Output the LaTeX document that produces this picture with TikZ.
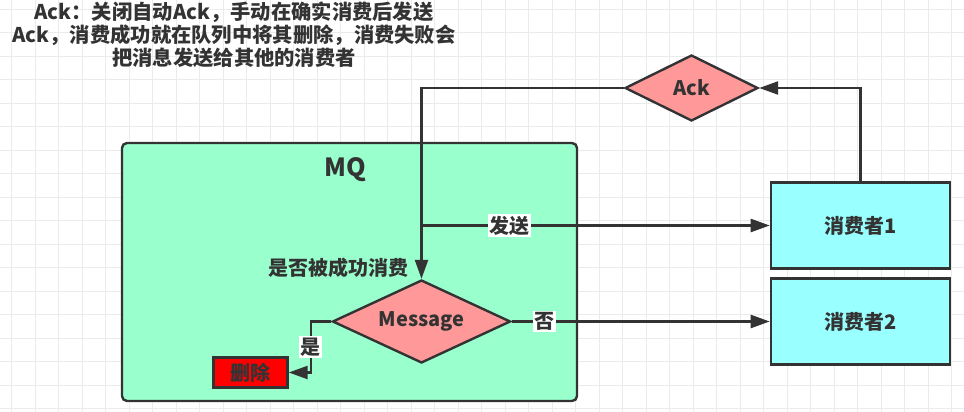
\documentclass[tikz,border=0pt]{standalone}
\usepackage{fontspec}
\setmainfont{Noto Sans CJK SC}
\usetikzlibrary{shapes.geometric,arrows.meta}
\definecolor{ln}{HTML}{333333}
\definecolor{gridc}{HTML}{EBEBEB}
\definecolor{mqfill}{HTML}{99FFCC}
\definecolor{cfill}{HTML}{99FFFF}
\definecolor{dfill}{HTML}{FF9999}
\definecolor{rfill}{HTML}{FF0000}
\tikzset{
  txt/.style={text=ln,font=\bfseries\fontsize{20}{24}\selectfont},
  mqbox/.style={draw=ln,line width=2.4pt,fill=mqfill,rounded corners=5pt,inner sep=0pt},
  cbox/.style={draw=ln,line width=2.6pt,fill=cfill,inner sep=0pt,minimum width=179pt,minimum height=86pt,txt},
  dia/.style={diamond,draw=ln,line width=2.4pt,fill=dfill,inner sep=0pt,txt},
  delbox/.style={draw=ln,line width=2.4pt,fill=rfill,inner sep=0pt,minimum width=74pt,minimum height=30pt,txt},
  arr/.style={draw=ln,line width=2.4pt,-{Triangle[length=19pt,width=13pt]}},
  lbl/.style={fill=white,inner sep=1.5pt,txt},
}
\begin{document}
\begin{tikzpicture}[x=1pt,y=-1pt]
\useasboundingbox (0,0) rectangle (964,412);
\fill[white] (0,0) rectangle (964,412);
\foreach \i in {0,...,40} \draw[gridc,line width=1pt] ({11.7+23.5*\i},0) -- ++(0,412);
\foreach \j in {0,...,17} \draw[gridc,line width=1pt] (0,{9.3+23.5*\j}) -- ++(964,0);

\node[txt,align=center,font=\bfseries\fontsize{20.3}{23}\selectfont] (note) at (234,34.5)
  {Ack：关闭自动Ack，手动在确实消费后发送\\Ack，消费成功就在队列中将其删除，消费失败会\\把消息发送给其他的消费者};

\node[mqbox,minimum width=455pt,minimum height=258pt] (mq) at (349.5,272) {};
\node[txt,font=\bfseries\fontsize{25}{28}\selectfont] (mqt) at (345,170) {MQ};

\node[cbox] (c1) at (860.5,225.5) {消费者1};
\node[cbox] (c2) at (860.5,321.5) {消费者2};

\node[dia,aspect=2,minimum width=133pt,minimum height=66pt] (ack) at (691.5,88) {Ack};
\node[dia,aspect=2.14,minimum width=178pt,minimum height=83pt] (msg) at (421.5,321.5) {Message};
\node[delbox] (del) at (250.5,372.5) {删除};

\node[txt] (q) at (338,268) {是否被成功消费};

\draw[arr] (c1.north) |- (ack.east);
\draw[arr] (ack.west) -| (msg.north);
\draw[arr] (msg.north |- c1.west) -- node[lbl,pos=0.253]{发送} (c1.west);
\draw[arr] (msg.east) -- node[lbl,pos=0.129]{否} (c2.west);
\draw[arr] (msg.west) -| node[lbl,pos=0.75]{是} ([xshift=22pt]del.east) -- (del.east);
\end{tikzpicture}
\end{document}
